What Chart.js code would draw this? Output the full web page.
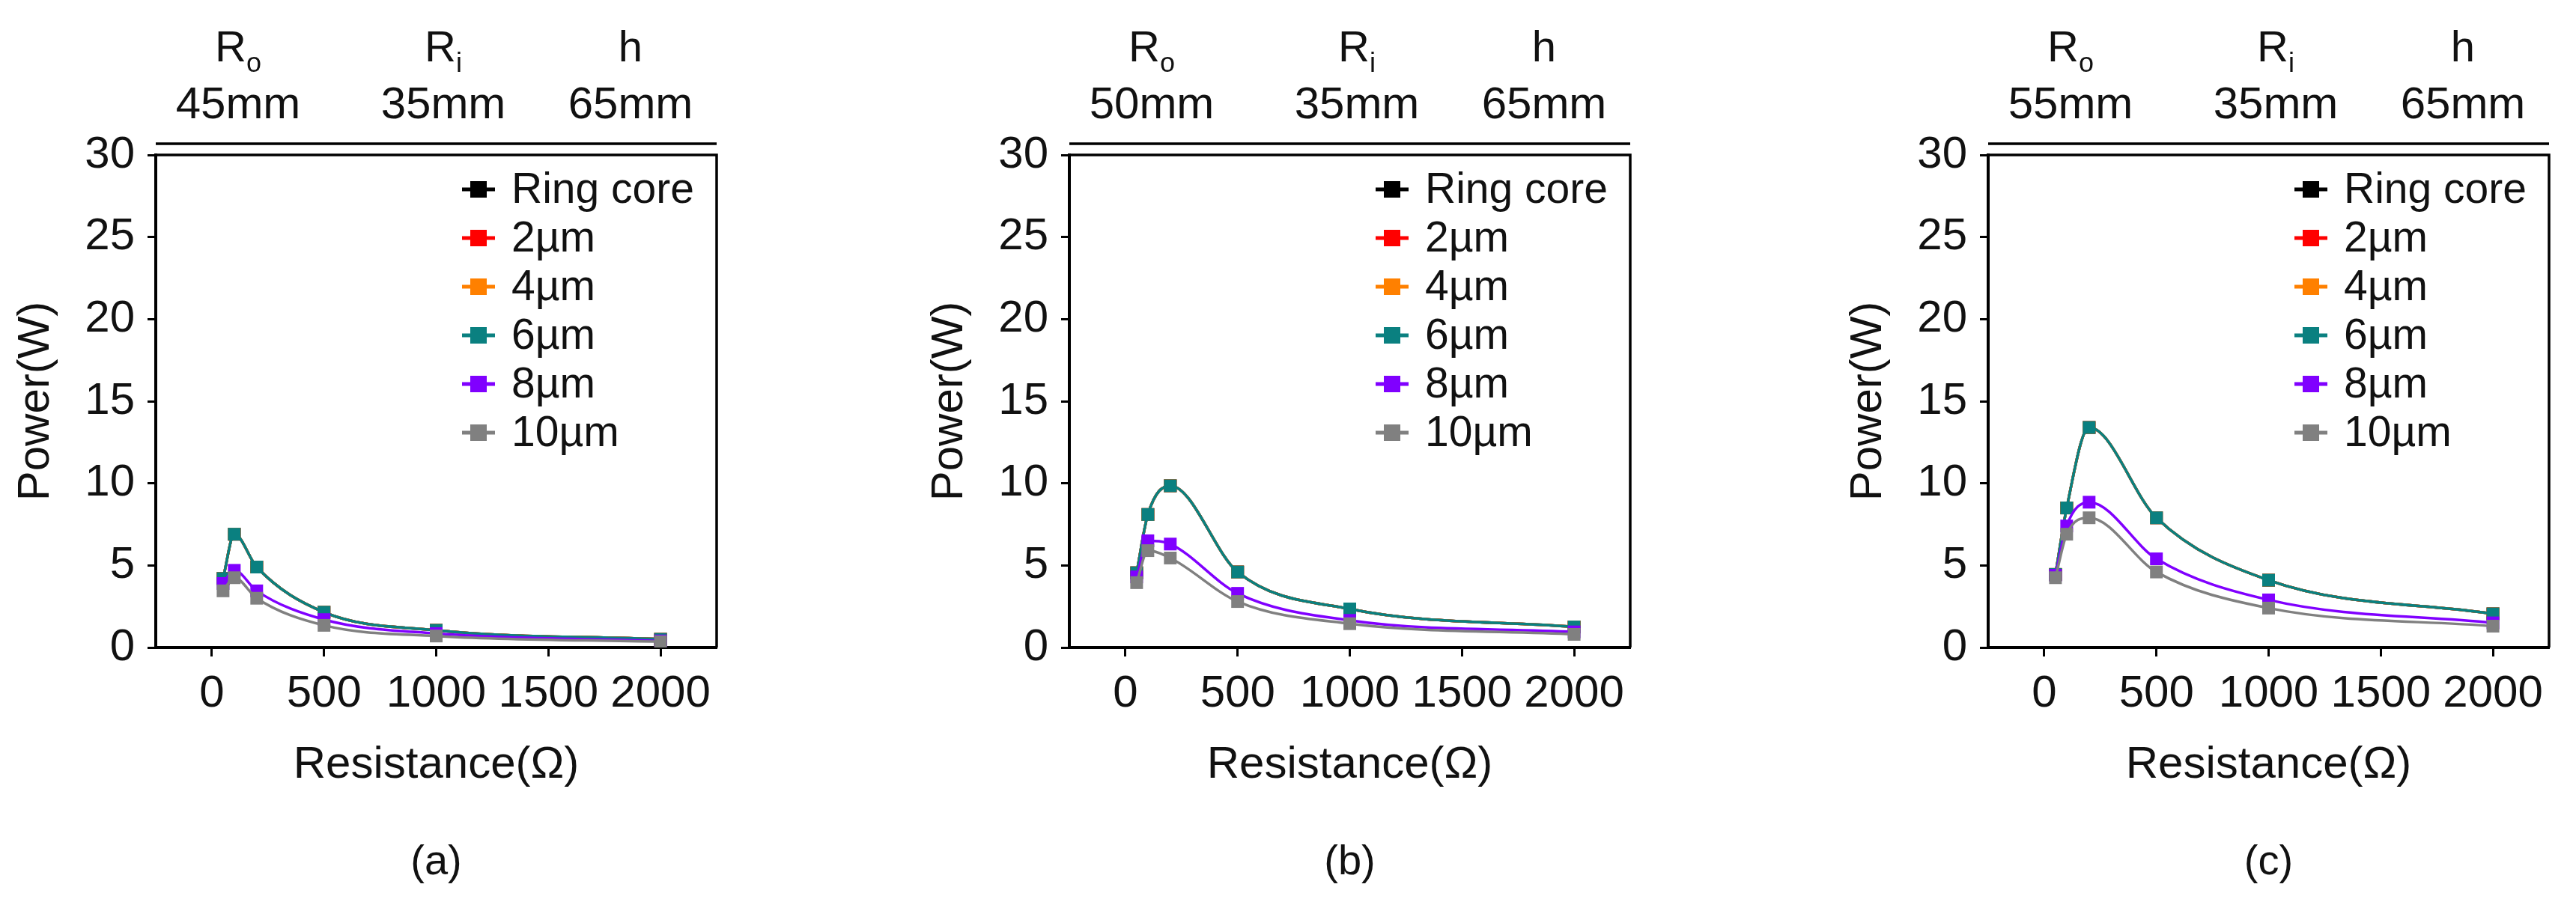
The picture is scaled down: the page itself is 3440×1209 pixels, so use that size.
<!DOCTYPE html>
<html>
<head>
<meta charset="utf-8">
<script src="https://cdn.jsdelivr.net/npm/chart.js@4.4.1/dist/chart.umd.min.js"></script>
<style>
  html, body { margin: 0; padding: 0; background: #fff; overflow: hidden; }
  #wrap { position: relative; width: 3440px; height: 1209px; }
  canvas { position: absolute; top: 0; }
</style>
</head>
<body>
<div id="wrap">
  <canvas id="chartA" width="1000" height="1209" style="left:0px"></canvas>
  <canvas id="chartB" width="1000" height="1209" style="left:1220px"></canvas>
  <canvas id="chartC" width="1000" height="1209" style="left:2447px"></canvas>
</div>
<script>
// x values (load resistance, ohm)
const resistance = [50, 100, 200, 500, 1000, 2000];
const xTicks = [0, 500, 1000, 1500, 2000];
const yTicks = [0, 5, 10, 15, 20, 25, 30];

const seriesNames = ["Ring core", "2µm", "4µm", "6µm", "8µm", "10µm"];
const seriesColors = ["#000000", "#ff0000", "#ff8000", "#0a8080", "#8000ff", "#808080"];

// panel (a) Ro = 45mm
const ringA = [4.2, 6.9, 4.9, 2.15, 1.05, 0.5];
const um2A  = [4.2, 6.9, 4.9, 2.15, 1.05, 0.5];
const um4A  = [4.2, 6.9, 4.9, 2.15, 1.05, 0.5];
const um6A  = [4.2, 6.9, 4.9, 2.15, 1.05, 0.5];
const um8A  = [3.9, 4.7, 3.45, 1.7, 0.85, 0.4];
const um10A = [3.45, 4.25, 3.0, 1.35, 0.7, 0.35];

// panel (b) Ro = 50mm
const ringB = [4.55, 8.1, 9.85, 4.6, 2.35, 1.25];
const um2B  = [4.55, 8.1, 9.85, 4.6, 2.35, 1.25];
const um4B  = [4.55, 8.1, 9.85, 4.6, 2.35, 1.25];
const um6B  = [4.55, 8.1, 9.85, 4.6, 2.35, 1.25];
const um8B  = [4.3, 6.5, 6.3, 3.3, 1.65, 0.95];
const um10B = [3.95, 5.9, 5.45, 2.8, 1.45, 0.8];

// panel (c) Ro = 55mm
const ringC = [4.45, 8.5, 13.4, 7.9, 4.1, 2.05];
const um2C  = [4.45, 8.5, 13.4, 7.9, 4.1, 2.05];
const um4C  = [4.45, 8.5, 13.4, 7.9, 4.1, 2.05];
const um6C  = [4.45, 8.5, 13.4, 7.9, 4.1, 2.05];
const um8C  = [4.4, 7.4, 8.85, 5.4, 2.9, 1.5];
const um10C = [4.25, 6.9, 7.9, 4.6, 2.4, 1.3];

// header labels
const outerRadius = ["45mm", "50mm", "55mm"];
const innerRadius = ["35mm", "35mm", "35mm"];
const coreHeight = ["65mm", "65mm", "65mm"];
const captions = ["(a)", "(b)", "(c)"];

const FONT = "'Liberation Sans', Arial, sans-serif";

//draws box, double top line, legend, header and caption
const decoPlugin = {
  id: "deco",
  afterDraw(chart) {
    const ctx = chart.ctx;
    const area = chart.chartArea;
    const p = chart.options.plugins.deco;
    ctx.save();

    // top + right border and the extra top line
    ctx.strokeStyle = "#000";
    ctx.lineWidth = 3.5;
    ctx.beginPath();
    ctx.moveTo(area.left, area.top);
    ctx.lineTo(area.right, area.top);
    ctx.lineTo(area.right, area.bottom);
    ctx.moveTo(area.left, area.top - 15);
    ctx.lineTo(area.right, area.top - 15);
    ctx.stroke();

    // legend
    ctx.font = "57px " + FONT;
    ctx.textBaseline = "middle";
    chart.data.datasets.forEach((ds, i) => {
      const y = area.top + 46 + i * 65;
      const mx = area.left + 431;
      ctx.strokeStyle = ds.borderColor;
      ctx.lineWidth = 5;
      ctx.beginPath();
      ctx.moveTo(mx - 22, y);
      ctx.lineTo(mx + 22, y);
      ctx.stroke();
      ctx.fillStyle = ds.borderColor;
      ctx.fillRect(mx - 11, y - 11, 22, 22);
      ctx.fillStyle = "#111";
      ctx.textAlign = "left";
      ctx.fillText(ds.label, area.left + 475, y + 2);
    });

    // header: R_o, R_i, h
    const cols = [
      { x: area.left + 110, main: "R", sub: "o", val: p.outer },
      { x: area.left + 384, main: "R", sub: "i", val: p.inner },
      { x: area.left + 634, main: "h", sub: "", val: p.height }
    ];
    ctx.fillStyle = "#111";
    ctx.textBaseline = "alphabetic";
    cols.forEach(c => {
      ctx.font = "58px " + FONT;
      const wMain = ctx.measureText(c.main).width;
      ctx.font = "36px " + FONT;
      const wSub = c.sub ? ctx.measureText(c.sub).width : 0;
      const startX = c.x - (wMain + wSub) / 2;
      ctx.textAlign = "left";
      ctx.font = "58px " + FONT;
      ctx.fillText(c.main, startX, 82);
      if (c.sub) {
        ctx.font = "36px " + FONT;
        ctx.fillText(c.sub, startX + wMain, 96);
      }
      ctx.font = "60px " + FONT;
      ctx.textAlign = "center";
      ctx.fillText(c.val, c.x, 158);
    });

    // caption
    ctx.font = "56px " + FONT;
    ctx.textAlign = "center";
    ctx.textBaseline = "middle";
    ctx.fillText(p.caption, (area.left + area.right) / 2, 1153);

    ctx.restore();
  }
};

function makeDatasets(values) {
  return values.map((vals, i) => ({
    label: seriesNames[i],
    data: resistance.map((x, j) => ({ x: x, y: vals[j] })),
    borderColor: seriesColors[i],
    backgroundColor: seriesColors[i],
    borderWidth: 3.5,
    pointStyle: "rect",
    pointRadius: 12,
    pointBorderWidth: 0,
    cubicInterpolationMode: "monotone",
    order: values.length - 1 - i //later series drawn on top
  }));
}

function makeChart(id, values, idx) {
  const ctx = document.getElementById(id).getContext("2d");
  return new Chart(ctx, {
    type: "line",
    data: { datasets: makeDatasets(values) },
    options: {
      responsive: false,
      animation: false,
      devicePixelRatio: 1,
      layout: { padding: { left: 0, right: 43, top: 207, bottom: 124 } },
      plugins: {
        legend: { display: false },
        tooltip: { enabled: false },
        deco: {
          outer: outerRadius[idx],
          inner: innerRadius[idx],
          height: coreHeight[idx],
          caption: captions[idx]
        }
      },
      scales: {
        x: {
          type: "linear",
          min: -250,
          max: 2250,
          afterBuildTicks: s => { s.ticks = xTicks.map(v => ({ value: v })); },
          afterFit: s => { s.height = 220; },
          grid: { drawOnChartArea: false, drawTicks: true, tickLength: 12, tickWidth: 3, tickColor: "#000" },
          border: { display: true, color: "#000", width: 4 },
          ticks: {
            autoSkip: false, maxRotation: 0, minRotation: 0, padding: 14,
            color: "#111", font: { family: FONT, size: 60 },
            callback: v => String(v)
          },
          title: {
            display: true, text: "Resistance(Ω)", color: "#111",
            font: { family: FONT, size: 60 }, padding: { top: 0, bottom: 27 }
          }
        },
        y: {
          min: 0,
          max: 30,
          afterBuildTicks: s => { s.ticks = yTicks.map(v => ({ value: v })); },
          afterFit: s => { s.width = 208; },
          grid: { drawOnChartArea: false, drawTicks: true, tickLength: 11, tickWidth: 3, tickColor: "#000" },
          border: { display: true, color: "#000", width: 4 },
          ticks: {
            padding: 17, color: "#111", font: { family: FONT, size: 60 },
            callback: v => String(v)
          },
          title: {
            display: true, text: "Power(W)", color: "#111",
            font: { family: FONT, size: 60 }, padding: { top: 12, bottom: 0 }
          }
        }
      }
    },
    plugins: [decoPlugin]
  });
}

makeChart("chartA", [ringA, um2A, um4A, um6A, um8A, um10A], 0);
makeChart("chartB", [ringB, um2B, um4B, um6B, um8B, um10B], 1);
makeChart("chartC", [ringC, um2C, um4C, um6C, um8C, um10C], 2);
</script>
</body>
</html>
